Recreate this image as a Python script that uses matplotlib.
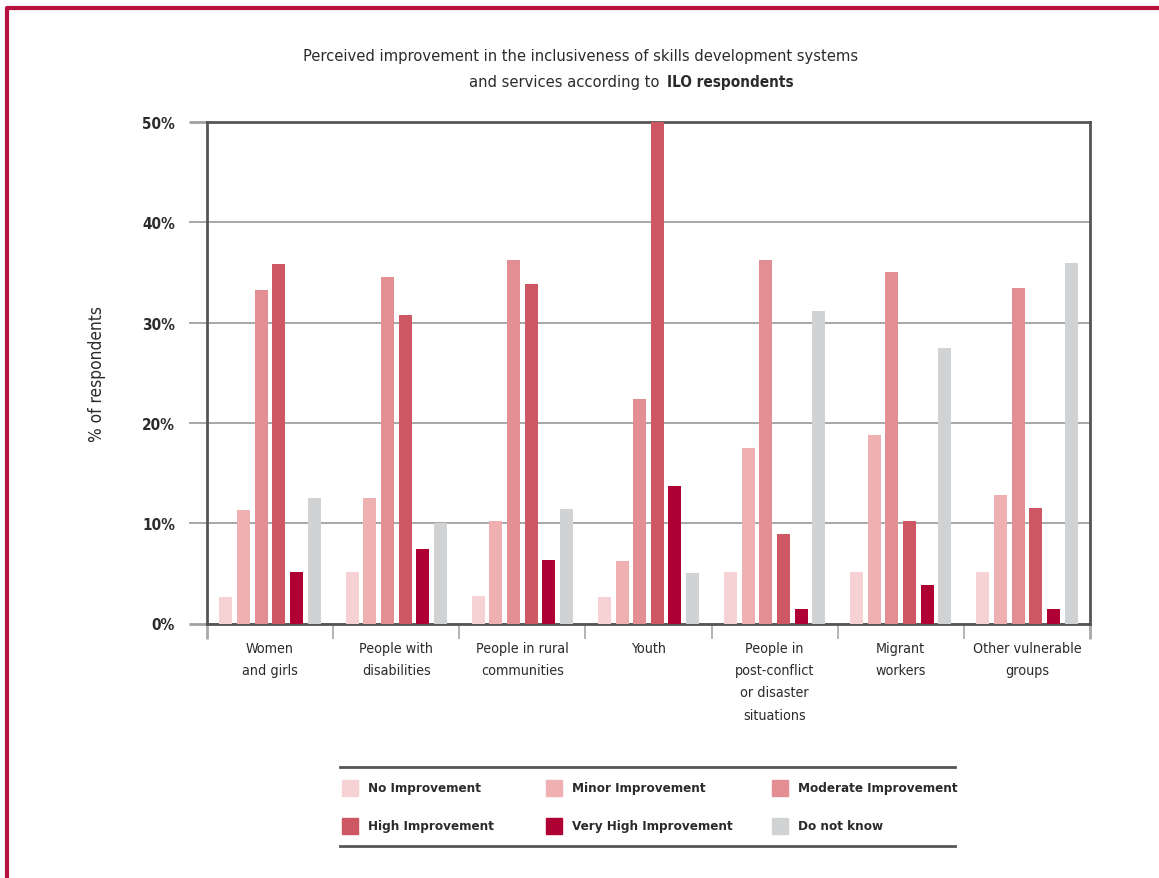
import matplotlib
matplotlib.use("Agg")
import matplotlib.pyplot as plt
from matplotlib.patches import Rectangle
from matplotlib.lines import Line2D
import numpy as np

groups = ["Women\nand girls", "People with\ndisabilities", "People in rural\ncommunities", "Youth",
          "People in\npost-conflict\nor disaster\nsituations", "Migrant\nworkers", "Other vulnerable\ngroups"]
series = ["No Improvement", "Minor Improvement", "Moderate Improvement",
          "High Improvement", "Very High Improvement", "Do not know"]
no_improvement = [2.6, 5.1, 2.7, 2.6, 5.1, 5.1, 5.1]
minor_improvement = [11.3, 12.5, 10.2, 6.2, 17.5, 18.8, 12.8]
moderate_improvement = [33.3, 34.5, 36.2, 22.4, 36.2, 35.0, 33.4]
high_improvement = [35.8, 30.8, 33.8, 50.0, 8.9, 10.2, 11.5]
very_high_improvement = [5.1, 7.4, 6.3, 13.7, 1.4, 3.8, 1.4]
do_not_know = [12.5, 10.0, 11.4, 5.0, 31.2, 27.5, 35.9]
yticks = [0, 10, 20, 30, 40, 50]

values = [no_improvement, minor_improvement, moderate_improvement,
          high_improvement, very_high_improvement, do_not_know]
colors = ["#f7d2d4", "#efb0b2", "#e28e92", "#cd5762", "#af0033", "#d1d2d4"]

# condensed face of DejaVu Sans for all text
plt.rcParams['font.family'] = ['DejaVu Sans']
plt.rcParams['font.stretch'] = 'condensed'
TXT = "#2b2b2b"

W, H = 1159, 879
fig = plt.figure(figsize=(W / 100, H / 100), dpi=100)


def fx(px):
    return px / W


def fy(py):
    return 1 - py / H


ax = fig.add_axes([fx(207), fy(624.5), fx(1090 - 207), (624.5 - 123) / H])

x = np.arange(len(groups))
step = 0.14
width = 0.103
for i, (vals, col) in enumerate(zip(values, colors)):
    ax.bar(x + (i - 2.5) * step, vals, width=width, color=col, zorder=3)

ax.set_xlim(-0.5, len(groups) - 0.5)
ax.set_ylim(0, 50)
ax.set_yticks(yticks)
ax.set_yticklabels([f"{t}%" for t in yticks], fontweight="bold", fontsize=11, color=TXT)
ax.tick_params(axis="y", length=13, width=1.3, pad=10, color="#a0a0a0")
for t, tick in zip(yticks, ax.yaxis.get_major_ticks()):
    if t in (0, 50):
        tick.tick1line.set_color("#555555")
        tick.tick1line.set_markeredgewidth(2)
ax.yaxis.grid(True, color="#a0a0a0", linewidth=1.3, zorder=1)

# category separators below the axis
ax.set_xticks(np.arange(len(groups) + 1) - 0.5)
ax.set_xticklabels([])
ax.tick_params(axis="x", length=11, width=1.2, color="#a8a8a8", direction="out")
for tick in (ax.xaxis.get_major_ticks()[0], ax.xaxis.get_major_ticks()[-1]):
    tick.tick1line.set_color("#555555")
    tick.tick1line.set_markeredgewidth(2)
for i, g in enumerate(groups):
    ax.text(i, -1.7, g, ha="center", va="top", fontsize=10.3, color=TXT, linespacing=1.76)

for side in ("left", "right", "top", "bottom"):
    ax.spines[side].set_color("#555555")
    ax.spines[side].set_linewidth(2)

ax.set_ylabel("% of respondents", fontsize=12.4, color=TXT, labelpad=26)

# title
fig.text(0.5 + fx(1.5), fy(57), "Perceived improvement in the inclusiveness of skills development systems",
         ha="center", va="center", fontsize=11.8, color=TXT)
fig.text(fx(664), fy(83), "and services according to ", ha="right", va="center",
         fontsize=11.8, color=TXT)
fig.text(fx(667), fy(83), "ILO respondents", ha="left", va="center",
         fontsize=11, color=TXT, fontweight="bold")

# legend
for yl in (768, 847):
    fig.add_artist(Line2D([fx(340), fx(955)], [fy(yl), fy(yl)], color="#555555", linewidth=2))
col_x = [342, 546, 772]
row_y = [789, 827]
for k, (name, col) in enumerate(zip(series, colors)):
    cx = col_x[k % 3]
    cy = row_y[k // 3]
    fig.add_artist(Rectangle((fx(cx), fy(cy + 8)), fx(16), 16 / H, color=col,
                             transform=fig.transFigure))
    fig.text(fx(cx + 26), fy(cy), name, ha="left", va="center", fontsize=9.6,
             fontweight="bold", color=TXT)

# outer frame
fig.add_artist(Line2D([fx(7), fx(7), fx(W)], [0, fy(9), fy(9)], color="#b5123e", linewidth=3))

fig.savefig("out.png", dpi=100)
